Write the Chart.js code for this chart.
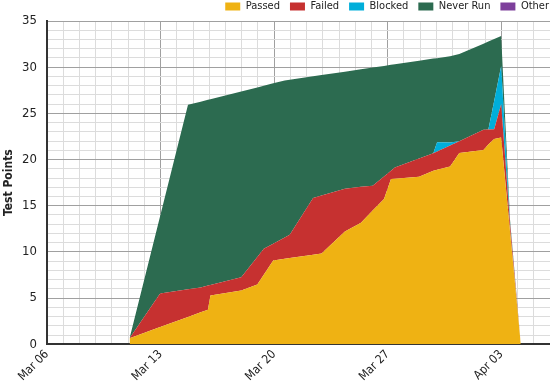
<!DOCTYPE html>
<html><head><meta charset="utf-8">
<script src="https://cdn.jsdelivr.net/npm/chart.js@4.4.1/dist/chart.umd.min.js"></script>
<style>html,body{margin:0;padding:0;background:#fff;overflow:hidden}</style>
</head><body>
<canvas id="c" width="550" height="387"></canvas>
<script>
// days after Mar 06
const days     = [5.09, 6.97, 8.69, 9.47, 9.92, 10.07, 11.97, 12.96, 13.36, 13.94, 14.65, 14.96, 16.40, 16.92, 18.36, 19.35, 20.07, 20.77, 21.20, 21.44, 22.93, 23.81, 24.04, 24.84, 25.41, 26.90, 27.20, 27.56, 27.99, 28.54, 29.20];
const passed   = [0.65, 1.86, 2.96, 3.46, 3.75, 5.29, 5.83, 6.48, 7.53, 9.07, 9.25, 9.33, 9.70, 9.83, 12.20, 13.17, 14.48, 15.73, 17.89, 17.93, 18.14, 18.79, 18.89, 19.26, 20.70, 21.03, 21.62, 22.22, 22.39, 12.16, 0];
const failed   = [0, 3.65, 2.99, 2.70, 2.61, 1.14, 1.44, 2.97, 2.80, 1.82, 2.30, 2.52, 6.14, 6.27, 4.64, 3.88, 2.69, 2.44, 0.90, 1.22, 1.97, 1.89, 1.97, 2.25, 1.27, 2.19, 1.63, 1.07, 3.60, 0.80, 0];
const blocked  = [0, 0, 0, 0, 0, 0, 0, 0, 0, 0, 0, 0, 0, 0, 0, 0, 0, 0, 0, 0, 0, 0, 1.00, 0.33, 0, 0, 0, 3.05, 4.14, 0.11, 0];
const neverRun = [0, 8.36, 19.97, 20.11, 20.11, 20.10, 20.11, 18.36, 17.66, 17.36, 17.01, 16.79, 13.18, 13.05, 12.67, 12.72, 12.79, 11.97, 11.46, 11.16, 10.58, 10.25, 9.12, 9.35, 9.47, 9.33, 9.53, 6.71, 3.24, 0.32, 0];
const other    = [0, 0, 0, 0, 0, 0, 0, 0, 0, 0, 0, 0, 0, 0, 0, 0, 0, 0, 0, 0, 0, 0, 0, 0, 0, 0, 0, 0, 0, 0, 0];

const tickDays   = [0, 7, 14, 21, 28];
const tickLabels = ['Mar 06', 'Mar 13', 'Mar 20', 'Mar 27', 'Apr 03'];
const seriesNames = ['Passed', 'Failed', 'Blocked', 'Never Run', 'Other'];

const FONT = "'Liberation Sans Narrow','DejaVu Sans Condensed','Arial Narrow','Liberation Sans',sans-serif";
const colors = ['#EFB213', '#C63130', '#00AEDA', '#2C6B50', '#7D3F9B'];
const series = [passed, failed, blocked, neverRun, other];

function pts(arr) { return days.map((d, i) => ({x: d, y: arr[i]})); }

const legendShift = {
  id: 'legendShift',
  afterLayout(chart) {
    if (chart.legend) { chart.legend.left += 9; chart.legend.right += 9; }
  }
};

new Chart(document.getElementById('c'), {
  type: 'line',
  plugins: [legendShift],
  data: {
    datasets: series.map((s, i) => ({
      label: seriesNames[i],
      data: pts(s),
      backgroundColor: colors[i],
      borderColor: colors[i],
      borderWidth: 0,
      pointRadius: 0,
      tension: 0,
      fill: i === 0 ? 'origin' : '-1'
    }))
  },
  options: {
    responsive: false,
    animation: false,
    events: [],
    layout: {padding: {top: -9, left: 0, right: 0, bottom: 0}},
    plugins: {
      legend: {
        position: 'top', align: 'end', maxHeight: 30,
        labels: {boxWidth: 15, boxHeight: 8, padding: 10, color: '#222', font: {family: FONT, size: 11}}
      },
      tooltip: {enabled: false}
    },
    scales: {
      x: {
        type: 'linear', min: 0, max: 31,
        grid: {color: c => (c.tick && c.tick.value % 7 === 0) ? '#a0a0a0' : '#dcdcdc', drawTicks: false, lineWidth: 1},
        border: {color: '#333', width: 2},
        afterFit: s => { s.paddingLeft = 0; s.paddingRight = 0; },
        ticks: {
          stepSize: 1, autoSkip: false, maxTicksLimit: 100, minRotation: 45, maxRotation: 45, padding: 3,
          color: '#222', font: {family: FONT, size: 12},
          callback: v => { const i = tickDays.indexOf(v); return i >= 0 ? tickLabels[i] : ''; }
        }
      },
      y: {
        stacked: true, min: 0, max: 35,
        grid: {color: c => (c.tick && c.tick.value % 5 === 0) ? '#a0a0a0' : '#dcdcdc', drawTicks: false, lineWidth: 1},
        border: {color: '#333', width: 2},
        afterFit: s => { s.width = 47; },
        title: {display: true, text: 'Test Points', color: '#222', font: {family: FONT, size: 12, weight: 'bold', lineHeight: 1}, padding: {top: 3, bottom: 0}},
        ticks: {
          stepSize: 1, autoSkip: false, maxTicksLimit: 100, padding: 10,
          color: '#222', font: {family: FONT, size: 13},
          callback: v => (v % 5 === 0 ? String(v) : '')
        }
      }
    }
  }
});
</script>
</body></html>
